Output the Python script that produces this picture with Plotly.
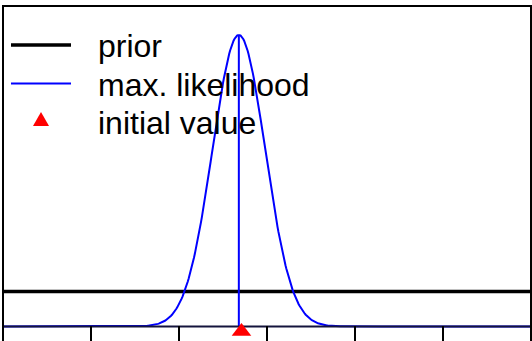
import numpy as np
import plotly.graph_objects as go

# ---- data ----
x_ticks = [0, 1, 2, 3, 4, 5, 6]
x_range = [0, 6]
prior_x = [0, 6]
prior_y = [0.16, 0.16]          # flat (uniform) prior density
ml_mean = 2.68                  # max. likelihood estimate
ml_sd = 0.30                    # spread of the likelihood curve
init_x = [2.71]                 # initial value
init_y = [-0.023]
legend_labels = ["prior", "max. likelihood", "initial value"]

# likelihood curve (normal density with the parameters above)
ml_x = np.linspace(x_range[0], x_range[1], 601)
ml_y = np.exp(-0.5 * ((ml_x - ml_mean) / ml_sd) ** 2) / (ml_sd * np.sqrt(2 * np.pi))
ml_peak = 1 / (ml_sd * np.sqrt(2 * np.pi))

W, H = 532, 341
ML, MR, MT, MB = 3, 1, 6, 0
PW, PH = W - ML - MR, H - MT - MB

def px(x):
    return (x - ML) / PW

def py(y):
    return (H - MB - y) / PH

y_range = [-0.066, 1.462]

fig = go.Figure()
fig.add_trace(go.Scatter(x=prior_x, y=prior_y, mode="lines",
                         line=dict(color="black", width=3.5), name=legend_labels[0],
                         showlegend=False))
fig.add_trace(go.Scatter(x=ml_x, y=ml_y, mode="lines",
                         line=dict(color="#0000ff", width=2), name=legend_labels[1],
                         showlegend=False))
fig.add_trace(go.Scatter(x=[ml_mean, ml_mean], y=[0, ml_peak], mode="lines",
                         line=dict(color="#0000ff", width=2), showlegend=False))
# axis baseline drawn over the curve
fig.add_trace(go.Scatter(x=x_range, y=[0, 0], mode="lines",
                         line=dict(color="#14143c", width=2), showlegend=False,
                         hoverinfo="skip"))
fig.add_trace(go.Scatter(x=init_x, y=init_y, mode="markers",
                         marker=dict(symbol="triangle-up", size=17, color="#ff0000"),
                         name=legend_labels[2], showlegend=False, cliponaxis=False))

shapes = [
    dict(type="rect", xref="paper", yref="paper", x0=0, x1=1, y0=-0.3, y1=1,
         line=dict(color="black", width=2), layer="above"),
    # legend glyphs
    dict(type="line", xref="paper", yref="paper", x0=px(11), x1=px(71), y0=py(45), y1=py(45),
         line=dict(color="black", width=3.5)),
    dict(type="line", xref="paper", yref="paper", x0=px(11), x1=px(71), y0=py(83.5), y1=py(83.5),
         line=dict(color="#0000ff", width=2)),
    dict(type="path", xref="paper", yref="paper",
         path=f"M {px(33)},{py(126)} L {px(49)},{py(126)} L {px(41)},{py(112)} Z",
         fillcolor="#ff0000", line=dict(width=0)),
]

annotations = []
for lab, cy in zip(legend_labels, [46, 85, 123]):
    annotations.append(dict(text=lab, xref="paper", yref="paper", x=px(96), y=py(cy),
                            xanchor="left", yanchor="middle", showarrow=False,
                            font=dict(family="Liberation Sans, Arial", size=32, color="black")))

fig.update_layout(
    width=W, height=H, autosize=False,
    margin=dict(l=ML, r=MR, t=MT, b=MB, pad=0),
    paper_bgcolor="white", plot_bgcolor="white",
    shapes=shapes, annotations=annotations, showlegend=False,
    xaxis=dict(range=x_range, tickvals=x_ticks, ticks="inside", ticklen=15, tickwidth=2,
               tickcolor="black", showticklabels=False, showgrid=False, zeroline=False,
               showline=False),
    yaxis=dict(range=y_range, showticklabels=False, showgrid=False, ticks="",
               zeroline=False, showline=False),
)

fig.write_html("out.html", config={"displayModeBar": False},
               post_script="document.body.style.margin='0';document.body.style.overflow='hidden';")
